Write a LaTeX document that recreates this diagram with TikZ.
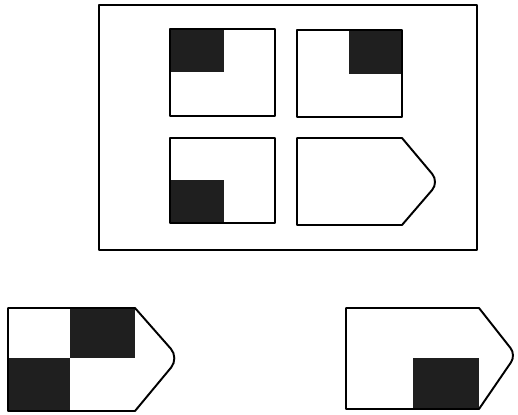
\documentclass[tikz,border=0pt]{standalone}
\usepackage{tikz}

\begin{document}
\begin{tikzpicture}[x=0.02cm, y=-0.02cm, line join=round,
    panel/.style={draw, line width=1.1pt},
    dark/.style={fill=black!88}]
  \useasboundingbox (0,0) rectangle (518,414);
  % Rammen med de fire feltene
  \draw[line width=0.9pt] (99,5) rectangle (477,250);
  \fill[dark] (170,29) rectangle (224,72);
  \draw[panel] (170,29) rectangle (275,116);
  \fill[dark] (349,30) rectangle (402,74);
  \draw[panel] (297,30) rectangle (402,117);
  \fill[dark] (170,180) rectangle (224,223);
  \draw[panel] (170,138) rectangle (275,223);
  \draw[panel] (297,138) -- (402,138) [rounded corners=6pt] -- (439,182)
    [sharp corners] -- (402,225) -- (297,225) -- cycle;
  % Svaralternativ 1
  \fill[dark] (70,308) rectangle (135,358);
  \fill[dark] (8,358) rectangle (70,411);
  \draw[panel] (8,308) -- (135,308) [rounded corners=7pt] -- (179,358)
    [sharp corners] -- (135,411) -- (8,411) -- cycle;
  % Svaralternativ 2
  \fill[dark] (413,358) rectangle (479,409);
  \draw[panel] (346,308) -- (479,308) [rounded corners=5pt] -- (516,355)
    [sharp corners] -- (479,409) -- (346,409) -- cycle;
\end{tikzpicture}
\end{document}
